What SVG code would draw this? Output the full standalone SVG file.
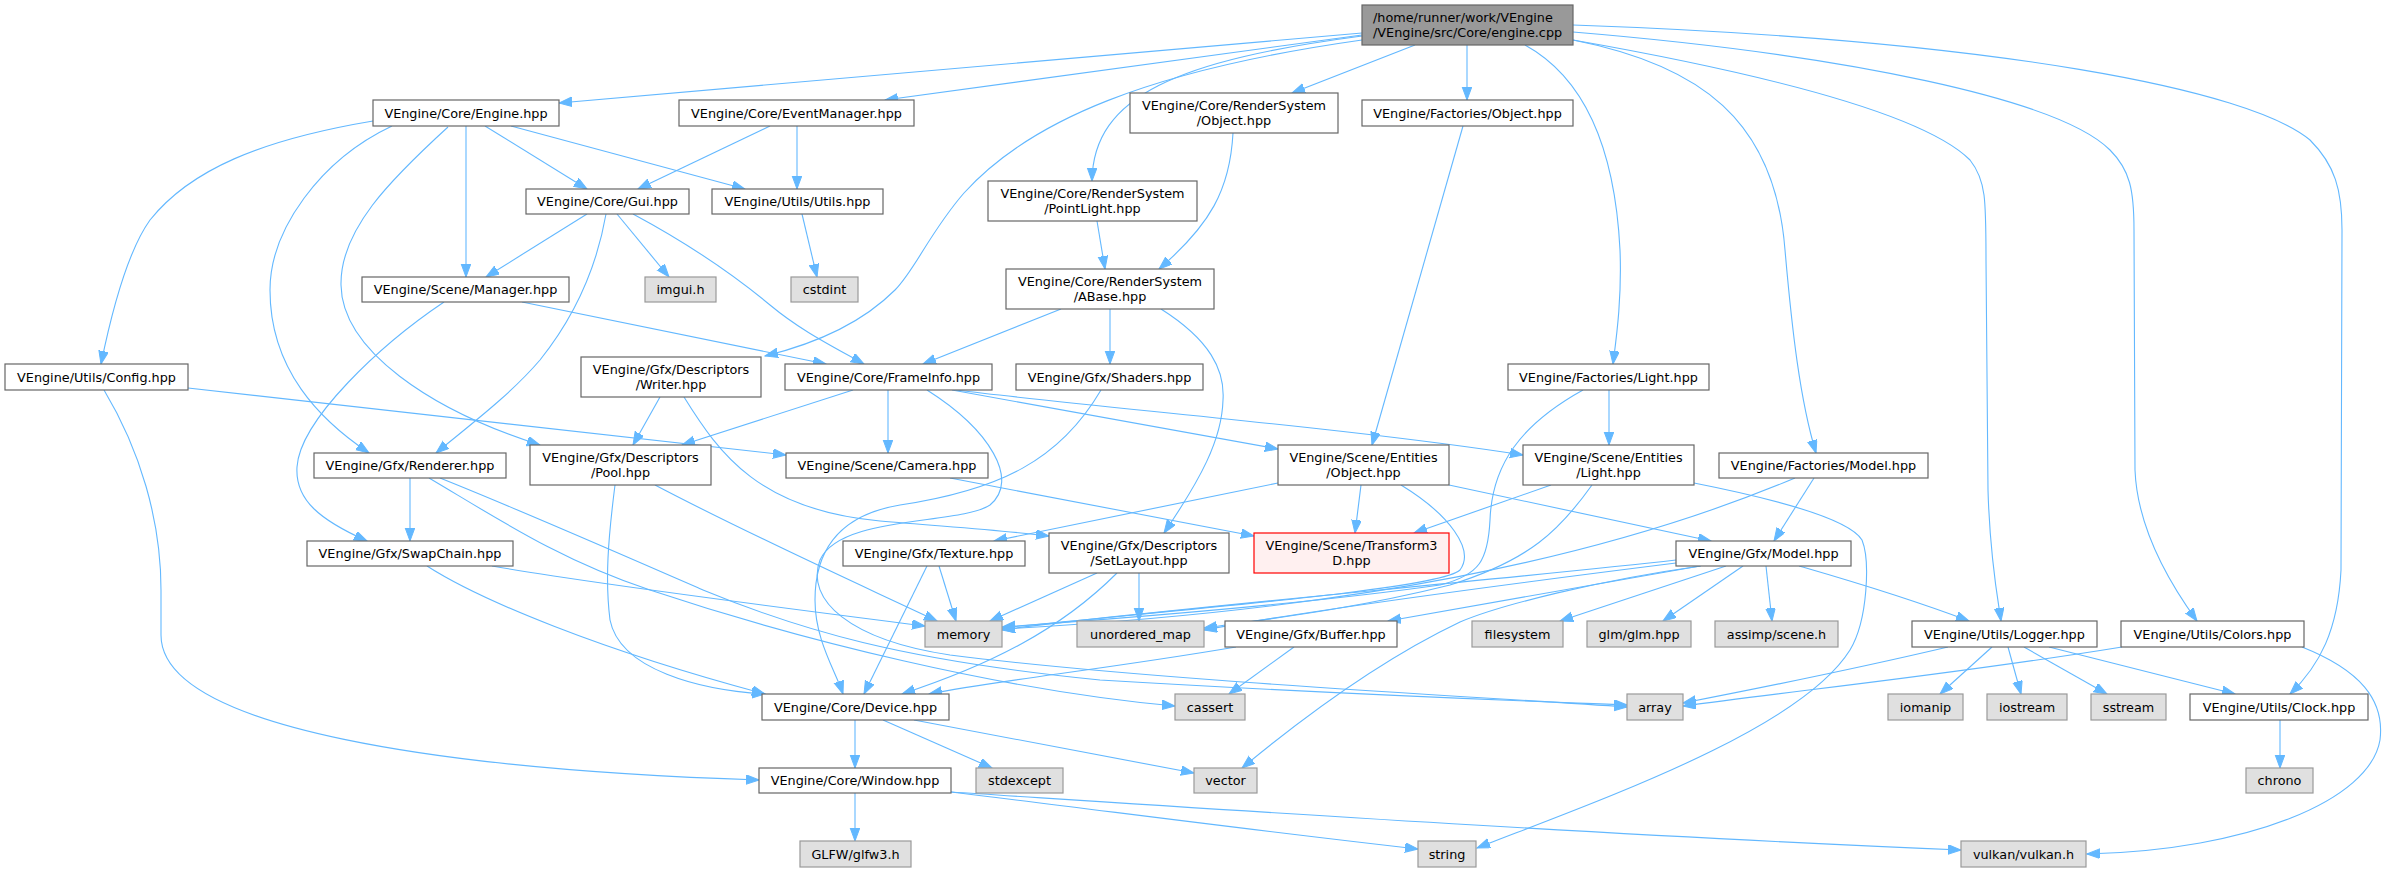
<svg xmlns="http://www.w3.org/2000/svg" width="2389" height="872" viewBox="0 0 2389 872">
<defs>
<marker id="ah" markerWidth="14" markerHeight="11" refX="13" refY="4.8" orient="auto" markerUnits="userSpaceOnUse"><path d="M0,0 L13,4.8 L0,9.6 z" fill="#63b8ff" stroke="#63b8ff" stroke-width="1"/></marker>
</defs>
<style>
text{font-family:"DejaVu Sans","Liberation Sans",sans-serif;font-size:12.8px;fill:#000;text-anchor:middle}
.n rect{fill:#fff;stroke:#666;stroke-width:1.2}
.x rect{fill:#e0e0e0;stroke:#999;stroke-width:1.2}
.r rect{fill:#999;stroke:#666;stroke-width:1.2}
.t rect{fill:#fff0f0;stroke:#f00;stroke-width:1.2}
#edges path{fill:none;stroke:#63b8ff;stroke-width:1.1;marker-end:url(#ah)}
</style>
<rect width="2389" height="872" fill="#fff"/>
<g id="edges">
<path d="M1362,33 L559,103"/>
<path d="M1362,35 L885,100"/>
<path d="M1415,45 L1292,93"/>
<path d="M1467,45 L1467,100"/>
<path d="M1362,36 C1180,60 1093,95 1092,181"/>
<path d="M1362,40 C1150,70 1030,120 964,193 C930,232 915,270 895,290 C860,325 810,345 765,356"/>
<path d="M1525,45 C1585,78 1615,150 1620,250 C1622,300 1616,340 1613,364"/>
<path d="M1573,40 C1700,65 1775,120 1785,250 C1792,330 1800,400 1816,453"/>
<path d="M1573,40 C1800,80 1930,120 1970,160 C1986,180 1986,200 1986,260 L1988,490 C1990,560 1998,600 2001,621"/>
<path d="M1573,32 C1850,55 2060,100 2110,150 C2130,170 2134,190 2134,230 L2135,470 C2137,520 2160,570 2197,621"/>
<path d="M1573,25 C2000,40 2250,90 2310,140 C2335,165 2342,190 2342,230 L2341,570 C2338,630 2320,665 2290,694"/>
<path d="M770,126 L638,189"/>
<path d="M797,126 L797,189"/>
<path d="M373,121 C260,140 190,170 150,220 C125,255 110,320 101,364"/>
<path d="M392,126 C320,160 270,230 270,290 C270,370 320,420 369,453"/>
<path d="M448,127 C390,180 340,230 341,285 C342,350 430,410 540,445"/>
<path d="M466,126 L466,277"/>
<path d="M485,126 L587,189"/>
<path d="M511,126 L745,189"/>
<path d="M587,214 L486,277"/>
<path d="M617,214 L669,277"/>
<path d="M633,214 C700,250 740,280 770,305 C800,330 830,345 864,364"/>
<path d="M606,214 C598,260 580,310 540,360 C510,395 470,425 436,453"/>
<path d="M802,214 L817,277"/>
<path d="M1097,221 L1105,269"/>
<path d="M1233,133 C1230,190 1210,225 1159,269"/>
<path d="M1463,126 L1372,445"/>
<path d="M522,302 L826,364"/>
<path d="M444,302 C380,345 300,420 297,467 C295,500 320,520 367,541"/>
<path d="M1061,309 L923,364"/>
<path d="M1110,309 L1110,364"/>
<path d="M1161,309 C1210,340 1225,370 1223,400 C1222,440 1200,480 1164,533"/>
<path d="M188,388 L786,455"/>
<path d="M104,390 C140,450 161,520 161,590 L161,635 C161,730 450,770 759,780"/>
<path d="M660,397 L633,445"/>
<path d="M684,397 C720,455 760,510 880,521 C950,527 1010,531 1049,536"/>
<path d="M853,390 L682,445"/>
<path d="M888,390 L888,453"/>
<path d="M952,390 L1278,449"/>
<path d="M956,390 C1100,408 1350,428 1523,455"/>
<path d="M927,390 C990,430 1020,480 990,505 C960,525 840,515 820,560 C805,600 850,640 950,655 C1150,680 1450,695 1627,707"/>
<path d="M1101,390 C1060,460 1000,490 900,505 C840,515 815,550 815,600 C815,640 835,670 843,694"/>
<path d="M1609,390 L1609,445"/>
<path d="M1583,390 C1520,425 1492,465 1490,520 C1488,560 1480,575 1440,585 C1300,605 1100,620 1002,627"/>
<path d="M950,478 L1254,536"/>
<path d="M1278,483 L994,541"/>
<path d="M1361,485 L1355,533"/>
<path d="M1449,485 L1711,541"/>
<path d="M1401,485 C1450,515 1475,550 1460,570 C1440,590 1150,612 1002,628"/>
<path d="M1551,485 L1414,533"/>
<path d="M1592,485 C1560,530 1530,560 1450,585 C1350,610 1260,620 1204,628"/>
<path d="M1694,483 C1780,500 1850,520 1862,540 C1870,560 1868,620 1850,650 C1800,730 1600,800 1477,848"/>
<path d="M1814,478 L1774,541"/>
<path d="M1795,478 C1600,560 1350,610 1002,629"/>
<path d="M1676,560 C1500,580 1100,615 1002,630"/>
<path d="M1676,563 C1500,585 1300,612 1204,630"/>
<path d="M1700,566 L1388,621"/>
<path d="M1726,566 L1560,621"/>
<path d="M1743,566 L1663,621"/>
<path d="M1766,566 L1772,621"/>
<path d="M1701,566 C1600,580 1500,605 1460,622 C1380,660 1300,720 1242,768"/>
<path d="M1799,566 C1830,575 1900,595 1969,621"/>
<path d="M655,485 C750,535 850,580 937,621"/>
<path d="M615,485 C608,540 605,580 610,620 C620,670 700,690 765,694"/>
<path d="M410,478 L410,541"/>
<path d="M429,478 C500,520 560,560 650,590 C800,640 1000,690 1175,706"/>
<path d="M440,478 C520,510 600,545 703,590 C800,630 900,660 1100,680 C1350,695 1500,700 1627,705"/>
<path d="M492,566 C600,585 800,610 925,626"/>
<path d="M427,566 C480,600 600,650 765,694"/>
<path d="M939,566 L956,621"/>
<path d="M927,566 L864,694"/>
<path d="M1097,573 L990,621"/>
<path d="M1117,573 C1060,630 990,665 902,694"/>
<path d="M1139,573 L1139,621"/>
<path d="M1236,647 C1100,670 1000,680 929,694"/>
<path d="M1294,647 L1229,694"/>
<path d="M1992,647 L1940,694"/>
<path d="M2008,647 L2021,694"/>
<path d="M2024,647 L2107,694"/>
<path d="M2049,647 L2235,694"/>
<path d="M1948,647 C1850,670 1750,690 1683,703"/>
<path d="M2122,647 C1950,675 1800,690 1683,706"/>
<path d="M2302,647 C2360,670 2385,700 2380,740 C2370,800 2250,850 2087,854"/>
<path d="M2280,720 L2280,768"/>
<path d="M855,720 L855,768"/>
<path d="M883,720 L992,768"/>
<path d="M914,720 L1194,773"/>
<path d="M855,793 L855,841"/>
<path d="M951,792 C1100,810 1250,830 1418,849"/>
<path d="M951,792 C1200,808 1600,835 1961,850"/>
</g>
<g id="root" class="r"><rect x="1362" y="5" width="211" height="40"/><text x="1373" y="22" style="text-anchor:start">/home/runner/work/VEngine</text><text x="1373" y="37" style="text-anchor:start">/VEngine/src/Core/engine.cpp</text></g>
<g id="engine" class="n"><rect x="373" y="100" width="186" height="26"/><text x="466" y="117.5">VEngine/Core/Engine.hpp</text></g>
<g id="eventmanager" class="n"><rect x="679" y="100" width="235" height="26"/><text x="796.5" y="117.5">VEngine/Core/EventManager.hpp</text></g>
<g id="rsobject" class="n"><rect x="1130" y="93" width="208" height="40"/><text x="1234" y="110">VEngine/Core/RenderSystem</text><text x="1234" y="125">/Object.hpp</text></g>
<g id="facobject" class="n"><rect x="1362" y="100" width="211" height="26"/><text x="1467.5" y="117.5">VEngine/Factories/Object.hpp</text></g>
<g id="gui" class="n"><rect x="526" y="189" width="163" height="25"/><text x="607.5" y="206">VEngine/Core/Gui.hpp</text></g>
<g id="utils" class="n"><rect x="712" y="189" width="171" height="25"/><text x="797.5" y="206">VEngine/Utils/Utils.hpp</text></g>
<g id="pointlight" class="n"><rect x="988" y="181" width="209" height="40"/><text x="1092.5" y="198">VEngine/Core/RenderSystem</text><text x="1092.5" y="213">/PointLight.hpp</text></g>
<g id="manager" class="n"><rect x="362" y="277" width="207" height="25"/><text x="465.5" y="294">VEngine/Scene/Manager.hpp</text></g>
<g id="imgui" class="x"><rect x="645" y="277" width="71" height="25"/><text x="680.5" y="294">imgui.h</text></g>
<g id="cstdint" class="x"><rect x="791" y="277" width="67" height="25"/><text x="824.5" y="294">cstdint</text></g>
<g id="abase" class="n"><rect x="1006" y="269" width="208" height="40"/><text x="1110" y="286">VEngine/Core/RenderSystem</text><text x="1110" y="301">/ABase.hpp</text></g>
<g id="config" class="n"><rect x="5" y="364" width="183" height="26"/><text x="96.5" y="381.5">VEngine/Utils/Config.hpp</text></g>
<g id="writer" class="n"><rect x="581" y="357" width="180" height="40"/><text x="671" y="374">VEngine/Gfx/Descriptors</text><text x="671" y="389">/Writer.hpp</text></g>
<g id="frameinfo" class="n"><rect x="785" y="364" width="207" height="26"/><text x="888.5" y="381.5">VEngine/Core/FrameInfo.hpp</text></g>
<g id="shaders" class="n"><rect x="1016" y="364" width="187" height="26"/><text x="1109.5" y="381.5">VEngine/Gfx/Shaders.hpp</text></g>
<g id="faclight" class="n"><rect x="1508" y="364" width="201" height="26"/><text x="1608.5" y="381.5">VEngine/Factories/Light.hpp</text></g>
<g id="renderer" class="n"><rect x="314" y="453" width="192" height="25"/><text x="410" y="470">VEngine/Gfx/Renderer.hpp</text></g>
<g id="pool" class="n"><rect x="530" y="445" width="181" height="40"/><text x="620.5" y="462">VEngine/Gfx/Descriptors</text><text x="620.5" y="477">/Pool.hpp</text></g>
<g id="camera" class="n"><rect x="786" y="453" width="202" height="25"/><text x="887" y="470">VEngine/Scene/Camera.hpp</text></g>
<g id="entobject" class="n"><rect x="1278" y="445" width="171" height="40"/><text x="1363.5" y="462">VEngine/Scene/Entities</text><text x="1363.5" y="477">/Object.hpp</text></g>
<g id="entlight" class="n"><rect x="1523" y="445" width="171" height="40"/><text x="1608.5" y="462">VEngine/Scene/Entities</text><text x="1608.5" y="477">/Light.hpp</text></g>
<g id="facmodel" class="n"><rect x="1719" y="453" width="209" height="25"/><text x="1823.5" y="470">VEngine/Factories/Model.hpp</text></g>
<g id="swapchain" class="n"><rect x="307" y="541" width="206" height="25"/><text x="410" y="558">VEngine/Gfx/SwapChain.hpp</text></g>
<g id="texture" class="n"><rect x="843" y="541" width="182" height="25"/><text x="934" y="558">VEngine/Gfx/Texture.hpp</text></g>
<g id="setlayout" class="n"><rect x="1049" y="533" width="180" height="40"/><text x="1139" y="550">VEngine/Gfx/Descriptors</text><text x="1139" y="565">/SetLayout.hpp</text></g>
<g id="transform3d" class="t"><rect x="1254" y="533" width="195" height="40"/><text x="1351.5" y="550">VEngine/Scene/Transform3</text><text x="1351.5" y="565">D.hpp</text></g>
<g id="gfxmodel" class="n"><rect x="1676" y="541" width="175" height="25"/><text x="1763.5" y="558">VEngine/Gfx/Model.hpp</text></g>
<g id="memory" class="x"><rect x="925" y="621" width="77" height="26"/><text x="963.5" y="638.5">memory</text></g>
<g id="unordered_map" class="x"><rect x="1077" y="621" width="127" height="26"/><text x="1140.5" y="638.5">unordered_map</text></g>
<g id="buffer" class="n"><rect x="1225" y="621" width="172" height="26"/><text x="1311" y="638.5">VEngine/Gfx/Buffer.hpp</text></g>
<g id="filesystem" class="x"><rect x="1472" y="621" width="91" height="26"/><text x="1517.5" y="638.5">filesystem</text></g>
<g id="glm" class="x"><rect x="1587" y="621" width="104" height="26"/><text x="1639" y="638.5">glm/glm.hpp</text></g>
<g id="assimp" class="x"><rect x="1715" y="621" width="123" height="26"/><text x="1776.5" y="638.5">assimp/scene.h</text></g>
<g id="logger" class="n"><rect x="1912" y="621" width="185" height="26"/><text x="2004.5" y="638.5">VEngine/Utils/Logger.hpp</text></g>
<g id="colors" class="n"><rect x="2121" y="621" width="183" height="26"/><text x="2212.5" y="638.5">VEngine/Utils/Colors.hpp</text></g>
<g id="device" class="n"><rect x="762" y="694" width="187" height="26"/><text x="855.5" y="711.5">VEngine/Core/Device.hpp</text></g>
<g id="cassert" class="x"><rect x="1175" y="694" width="70" height="26"/><text x="1210" y="711.5">cassert</text></g>
<g id="array" class="x"><rect x="1627" y="694" width="56" height="26"/><text x="1655" y="711.5">array</text></g>
<g id="iomanip" class="x"><rect x="1888" y="694" width="75" height="26"/><text x="1925.5" y="711.5">iomanip</text></g>
<g id="iostream" class="x"><rect x="1987" y="694" width="80" height="26"/><text x="2027" y="711.5">iostream</text></g>
<g id="sstream" class="x"><rect x="2091" y="694" width="75" height="26"/><text x="2128.5" y="711.5">sstream</text></g>
<g id="clock" class="n"><rect x="2190" y="694" width="178" height="26"/><text x="2279" y="711.5">VEngine/Utils/Clock.hpp</text></g>
<g id="window" class="n"><rect x="759" y="768" width="192" height="25"/><text x="855" y="785">VEngine/Core/Window.hpp</text></g>
<g id="stdexcept" class="x"><rect x="976" y="768" width="87" height="25"/><text x="1019.5" y="785">stdexcept</text></g>
<g id="vector" class="x"><rect x="1194" y="768" width="63" height="25"/><text x="1225.5" y="785">vector</text></g>
<g id="chrono" class="x"><rect x="2246" y="768" width="67" height="25"/><text x="2279.5" y="785">chrono</text></g>
<g id="glfw" class="x"><rect x="800" y="841" width="111" height="26"/><text x="855.5" y="858.5">GLFW/glfw3.h</text></g>
<g id="string" class="x"><rect x="1418" y="841" width="58" height="26"/><text x="1447" y="858.5">string</text></g>
<g id="vulkan" class="x"><rect x="1961" y="841" width="125" height="26"/><text x="2023.5" y="858.5">vulkan/vulkan.h</text></g>
</svg>
